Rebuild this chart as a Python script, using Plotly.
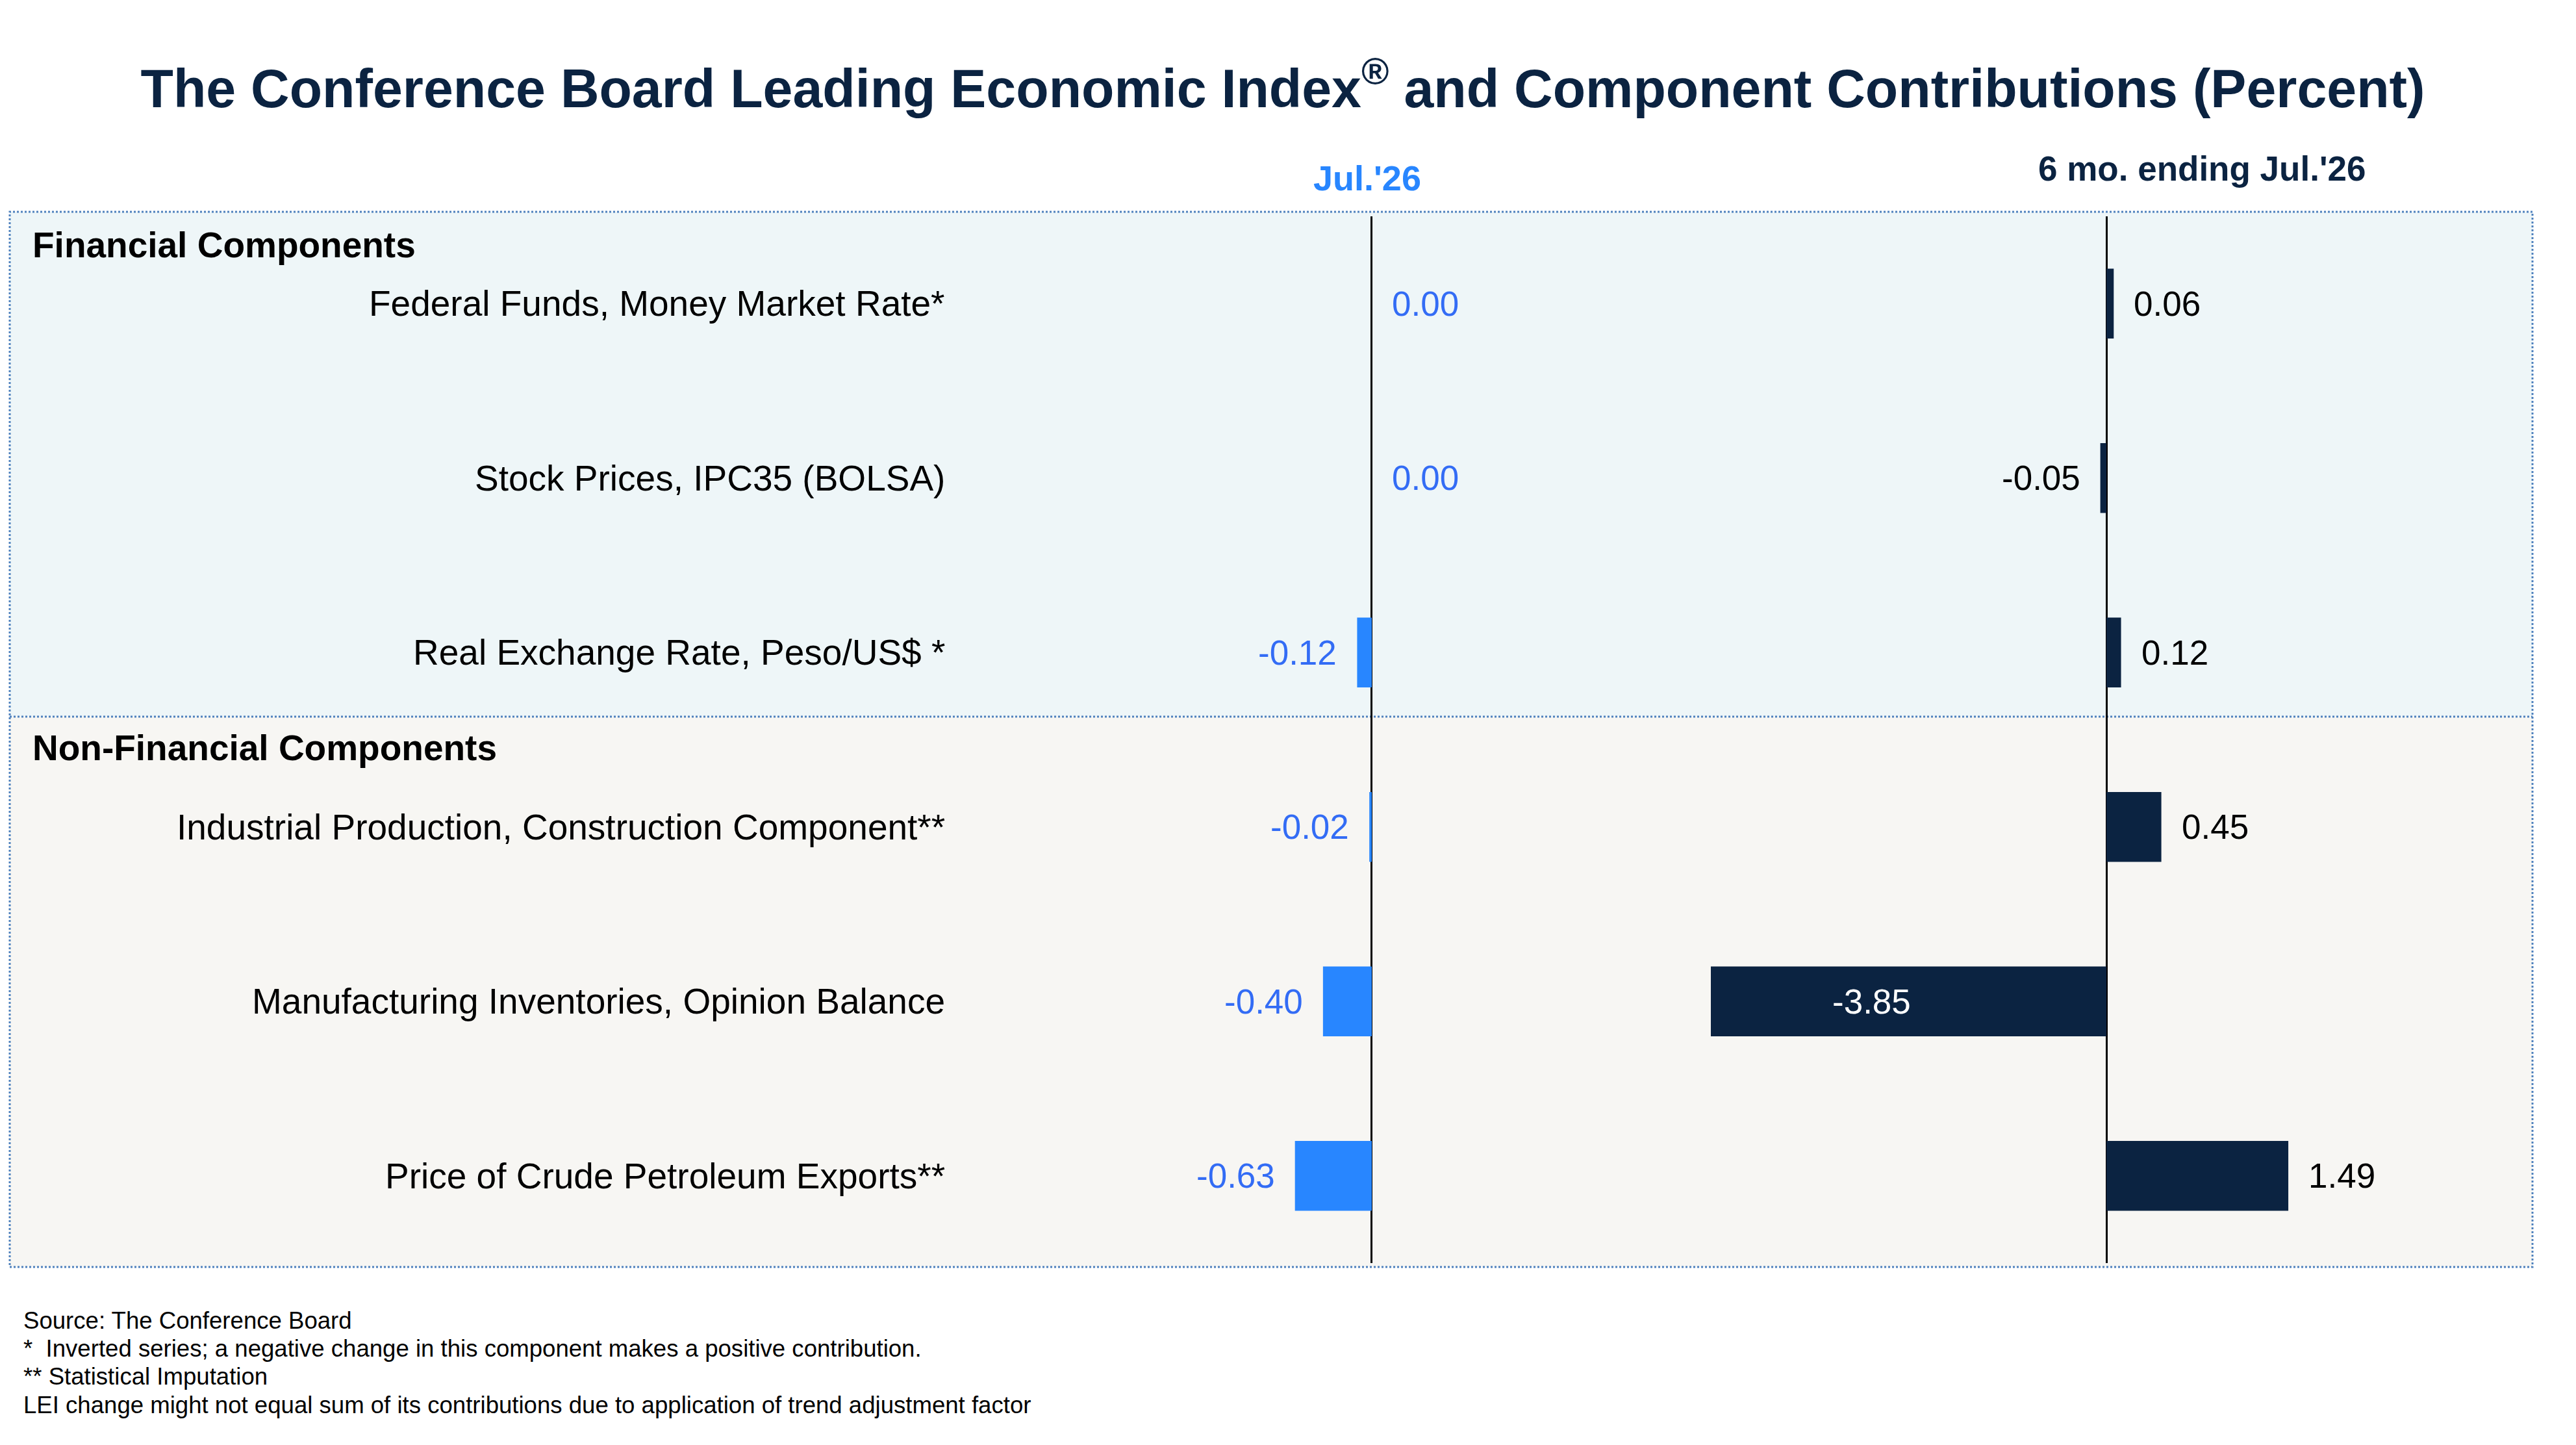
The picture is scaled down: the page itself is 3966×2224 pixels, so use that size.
import plotly.graph_objects as go

# ---- data ----
components = [
    "Federal Funds, Money Market Rate*",
    "Stock Prices, IPC35 (BOLSA)",
    "Real Exchange Rate, Peso/US$ *",
    "Industrial Production, Construction Component**",
    "Manufacturing Inventories, Opinion Balance",
    "Price of Crude Petroleum Exports**",
]
jul_26 = [0.00, 0.00, -0.12, -0.02, -0.40, -0.63]
six_mo = [0.06, -0.05, 0.12, 0.45, -3.85, 1.49]
sections = ["Financial Components", "Non-Financial Components"]
col_titles = ["Jul.'26", "6 mo. ending Jul.'26"]
footnotes = [
    "Source: The Conference Board",
    "*\u00a0 Inverted series; a negative change in this component makes a positive contribution.",
    "** Statistical Imputation",
    "LEI change might not equal sum of its contributions due to application of trend adjustment factor",
]

W, H = 3966, 2224
OFF = 8  # page body margin
FONT = "Arial, Liberation Sans, sans-serif"
NAVY = "#0B2341"
BLUE_BAR = "#2886FF"
BLUE_TXT = "#336CF5"


def px(x):
    return (x - OFF) / W


def py(y):
    return 1 - (y - OFF) / H


fig = go.Figure()
fig.add_trace(go.Bar(x=jul_26, y=components, orientation="h", width=0.4,
                     marker=dict(color=BLUE_BAR, line=dict(width=0)),
                     xaxis="x", yaxis="y", hoverinfo="x+y"))
fig.add_trace(go.Bar(x=six_mo, y=components, orientation="h", width=0.4,
                     marker=dict(color=NAVY, line=dict(width=0)),
                     xaxis="x2", yaxis="y", hoverinfo="x+y"))

ann = []
# row labels
for c in components:
    ann.append(dict(x=px(1457), xref="paper", y=c, yref="y", text=c,
                    xanchor="right", yanchor="middle", showarrow=False,
                    font=dict(size=55, color="black", family=FONT)))
# value labels
for c, v in zip(components, jul_26):
    ann.append(dict(x=v, xref="x", y=c, yref="y", text=f"{v:.2f}",
                    xanchor="right" if v < 0 else "left",
                    xshift=-29 if v < 0 else 29, yanchor="middle",
                    showarrow=False, font=dict(size=53, color=BLUE_TXT, family=FONT)))
for c, v in zip(components, six_mo):
    if abs(v) > 2:
        ann.append(dict(x=v / 2, xref="x2", y=c, yref="y", text=f"{v:.2f}",
                        xanchor="center", yanchor="middle", showarrow=False,
                        font=dict(size=53, color="white", family=FONT)))
    else:
        ann.append(dict(x=v, xref="x2", y=c, yref="y", text=f"{v:.2f}",
                        xanchor="right" if v < 0 else "left",
                        xshift=-29 if v < 0 else 29, yanchor="middle",
                        showarrow=False, font=dict(size=53, color="black", family=FONT)))
# section headers
for s, yy in zip(sections, [377, 1151]):
    ann.append(dict(x=px(48), xref="paper", y=py(yy), yref="paper", text=f"<b>{s}</b>",
                    xanchor="left", yanchor="middle", showarrow=False,
                    font=dict(size=55, color="black", family=FONT)))
# column titles
ann.append(dict(x=px(2105), xref="paper", y=py(274), yref="paper", text=f"<b>{col_titles[0]}</b>",
                xanchor="center", yanchor="middle", showarrow=False,
                font=dict(size=54, color=BLUE_BAR, family=FONT)))
ann.append(dict(x=px(3390), xref="paper", y=py(260), yref="paper", text=f"<b>{col_titles[1]}</b>",
                xanchor="center", yanchor="middle", showarrow=False,
                font=dict(size=53, color=NAVY, family=FONT)))
# footnotes
for t, yy in zip(footnotes, [2032, 2075, 2118, 2162]):
    ann.append(dict(x=px(34), xref="paper", y=py(yy), yref="paper", text=t,
                    xanchor="left", yanchor="middle", showarrow=False,
                    font=dict(size=36.6, color="black", family=FONT)))

shapes = [
    dict(type="rect", xref="paper", yref="paper", x0=px(15), x1=px(3899), y0=py(1103), y1=py(326),
         fillcolor="#EEF6F8", line=dict(width=0), layer="below"),
    dict(type="rect", xref="paper", yref="paper", x0=px(15), x1=px(3899), y0=py(1950), y1=py(1103),
         fillcolor="#F7F6F3", line=dict(width=0), layer="below"),
    dict(type="rect", xref="paper", yref="paper", x0=px(15), x1=px(3899), y0=py(1950), y1=py(326),
         line=dict(color="#4F81BD", width=3, dash="dot"), layer="below"),
    dict(type="line", xref="paper", yref="paper", x0=px(15), x1=px(3899), y0=py(1103), y1=py(1103),
         line=dict(color="#4F81BD", width=3, dash="dot"), layer="below"),
]

axis_common = dict(showgrid=False, showticklabels=False, ticks="", showline=False,
                   zeroline=True, zerolinecolor="black", zerolinewidth=3, fixedrange=True)

fig.update_layout(
    width=W, height=H,
    margin=dict(l=0, r=0, t=0, b=0),
    paper_bgcolor="white", plot_bgcolor="rgba(0,0,0,0)",
    showlegend=False,
    title=dict(text="<b>The Conference Board Leading Economic Index<sup>®</sup> and Component Contributions (Percent)</b>",
               x=px(1975), xanchor="center", y=py(136), yanchor="middle",
               font=dict(size=82.5, color=NAVY, family=FONT)),
    xaxis=dict(domain=[px(1500), px(2600)], range=[-3.26, 2.60], anchor="y", **axis_common),
    xaxis2=dict(domain=[px(2634), px(3899)], range=[-3.24, 3.49], anchor="y", **axis_common),
    yaxis=dict(domain=[py(1944), py(333)], range=[5.5, -0.5], type="category",
               showgrid=False, showticklabels=False, ticks="", showline=False,
               zeroline=False, fixedrange=True),
    annotations=ann,
    shapes=shapes,
    bargap=0.6,
)

fig.write_html("out.html")
